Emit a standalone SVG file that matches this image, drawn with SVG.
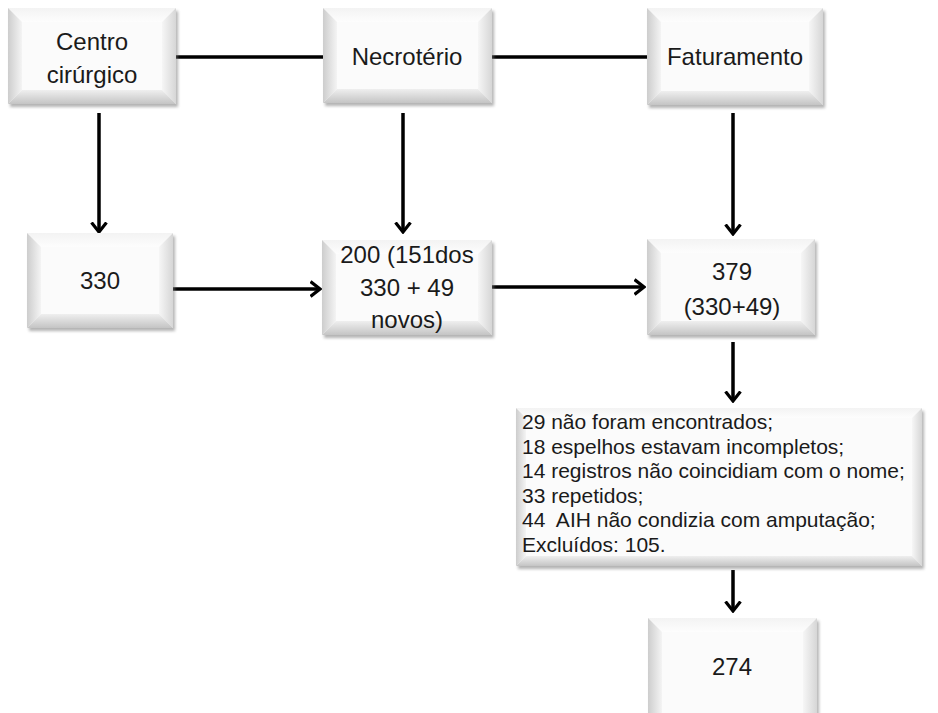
<svg xmlns="http://www.w3.org/2000/svg" width="938" height="713" viewBox="0 0 938 713">
<style>
.t{font-family:"Liberation Sans",Arial,sans-serif;font-size:24px;fill:#1a1a1a;text-anchor:middle}
.l{font-family:"Liberation Sans",Arial,sans-serif;font-size:21px;fill:#1a1a1a}
.face{fill:#fbfbfb}
.bl{fill:url(#gl)}
.bt{fill:url(#gt)}
.br{fill:url(#gr)}
.bb{fill:url(#gb)}
.sh{fill:#777;opacity:.55;filter:url(#blur)}
.c{stroke:#000;stroke-width:3.5;fill:none}
.a{marker-end:url(#ah)}
</style>
<defs>
<linearGradient id="gl" x1="0" y1="0" x2="1" y2="0"><stop offset="0" stop-color="#cdcdcd"/><stop offset="1" stop-color="#f4f4f4"/></linearGradient>
<linearGradient id="gt" x1="0" y1="0" x2="0" y2="1"><stop offset="0" stop-color="#f3f3f3"/><stop offset="1" stop-color="#fdfdfd"/></linearGradient>
<linearGradient id="gr" x1="1" y1="0" x2="0" y2="0"><stop offset="0" stop-color="#d6d6d6"/><stop offset="1" stop-color="#f6f6f6"/></linearGradient>
<linearGradient id="gb" x1="0" y1="1" x2="0" y2="0"><stop offset="0" stop-color="#c4c4c4"/><stop offset="1" stop-color="#efefef"/></linearGradient>
<filter id="blur" x="-10%" y="-10%" width="120%" height="130%"><feGaussianBlur stdDeviation="1.5"/></filter>
<marker id="ah" viewBox="0 0 12 18" refX="10.5" refY="9" markerWidth="12" markerHeight="18" markerUnits="userSpaceOnUse" orient="auto">
<path d="M1,1.5 L10.5,9 L1,16.5" fill="none" stroke="#000" stroke-width="3.2"/>
</marker>
</defs>

<g id="connectors">
<line class="c" x1="176" y1="57" x2="323" y2="57"/>
<line class="c" x1="492" y1="57" x2="647" y2="57"/>
<line class="c a" x1="99" y1="113" x2="99" y2="232"/>
<line class="c a" x1="403" y1="113" x2="403" y2="232"/>
<line class="c a" x1="733" y1="113" x2="733" y2="234"/>
<line class="c a" x1="173" y1="289" x2="320" y2="289"/>
<line class="c a" x1="492" y1="287" x2="644" y2="287"/>
<line class="c a" x1="733" y1="342" x2="733" y2="401"/>
<line class="c a" x1="733" y1="570" x2="733" y2="611"/>
</g>

<g id="centro">
<rect class="sh" x="10" y="11" width="168" height="96"/>
<rect class="face" x="8" y="8" width="168" height="96"/>
<polygon class="bt" points="8,8 176,8 162,22 22,22"/>
<polygon class="bl" points="8,8 22,22 22,90 8,104"/>
<polygon class="br" points="176,8 176,104 162,90 162,22"/>
<polygon class="bb" points="8,104 176,104 162,90 22,90"/>
<text class="t" x="92" y="50">Centro</text>
<text class="t" x="92" y="83">cirúrgico</text>
</g>

<g id="necroterio">
<rect class="sh" x="325" y="11" width="169" height="95"/>
<rect class="face" x="323" y="8" width="169" height="95"/>
<polygon class="bt" points="323,8 492,8 478,22 337,22"/>
<polygon class="bl" points="323,8 337,22 337,89 323,103"/>
<polygon class="br" points="492,8 492,103 478,89 478,22"/>
<polygon class="bb" points="323,103 492,103 478,89 337,89"/>
<text class="t" x="407" y="65">Necrotério</text>
</g>

<g id="faturamento">
<rect class="sh" x="649" y="11" width="176" height="97"/>
<rect class="face" x="647" y="8" width="176" height="97"/>
<polygon class="bt" points="647,8 823,8 809,22 661,22"/>
<polygon class="bl" points="647,8 661,22 661,91 647,105"/>
<polygon class="br" points="823,8 823,105 809,91 809,22"/>
<polygon class="bb" points="647,105 823,105 809,91 661,91"/>
<text class="t" x="735" y="65">Faturamento</text>
</g>

<g id="n330">
<rect class="sh" x="29" y="236" width="146" height="95"/>
<rect class="face" x="27" y="233" width="146" height="95"/>
<polygon class="bt" points="27,233 173,233 159,247 41,247"/>
<polygon class="bl" points="27,233 41,247 41,314 27,328"/>
<polygon class="br" points="173,233 173,328 159,314 159,247"/>
<polygon class="bb" points="27,328 173,328 159,314 41,314"/>
<text class="t" x="100" y="289">330</text>
</g>

<g id="n200">
<rect class="sh" x="324" y="243" width="170" height="95"/>
<rect class="face" x="322" y="240" width="170" height="95"/>
<polygon class="bt" points="322,240 492,240 478,254 336,254"/>
<polygon class="bl" points="322,240 336,254 336,321 322,335"/>
<polygon class="br" points="492,240 492,335 478,321 478,254"/>
<polygon class="bb" points="322,335 492,335 478,321 336,321"/>
<text class="t" x="407" y="263">200 (151dos</text>
<text class="t" x="407" y="296">330 + 49</text>
<text class="t" x="407" y="328">novos)</text>
</g>

<g id="n379">
<rect class="sh" x="649" y="242" width="168" height="96"/>
<rect class="face" x="647" y="239" width="168" height="96"/>
<polygon class="bt" points="647,239 815,239 801,253 661,253"/>
<polygon class="bl" points="647,239 661,253 661,321 647,335"/>
<polygon class="br" points="815,239 815,335 801,321 801,253"/>
<polygon class="bb" points="647,335 815,335 801,321 661,321"/>
<text class="t" x="732" y="280">379</text>
<text class="t" x="732" y="315">(330+49)</text>
</g>

<g id="excluidos">
<rect class="sh" x="518" y="411" width="406" height="158"/>
<rect class="face" x="516" y="408" width="406" height="158"/>
<polygon class="bt" points="516,408 922,408 912,418 526,418"/>
<polygon class="bl" points="516,408 526,418 526,556 516,566"/>
<polygon class="br" points="922,408 922,566 912,556 912,418"/>
<polygon class="bb" points="516,566 922,566 912,556 526,556"/>
<text class="l" x="522" y="429">29 não foram encontrados;</text>
<text class="l" x="522" y="454">18 espelhos estavam incompletos;</text>
<text class="l" x="522" y="478">14 registros não coincidiam com o nome;</text>
<text class="l" x="522" y="503">33 repetidos;</text>
<text class="l" x="522" y="527" xml:space="preserve">44  AIH não condizia com amputação;</text>
<text class="l" x="522" y="552">Excluídos: 105.</text>
</g>

<g id="n274">
<rect class="sh" x="650" y="621" width="169" height="110"/>
<rect class="face" x="648" y="618" width="169" height="110"/>
<polygon class="bt" points="648,618 817,618 803,632 662,632"/>
<polygon class="bl" points="648,618 662,632 662,714 648,728"/>
<polygon class="br" points="817,618 817,728 803,714 803,632"/>
<text class="t" x="732" y="675">274</text>
</g>
</svg>
